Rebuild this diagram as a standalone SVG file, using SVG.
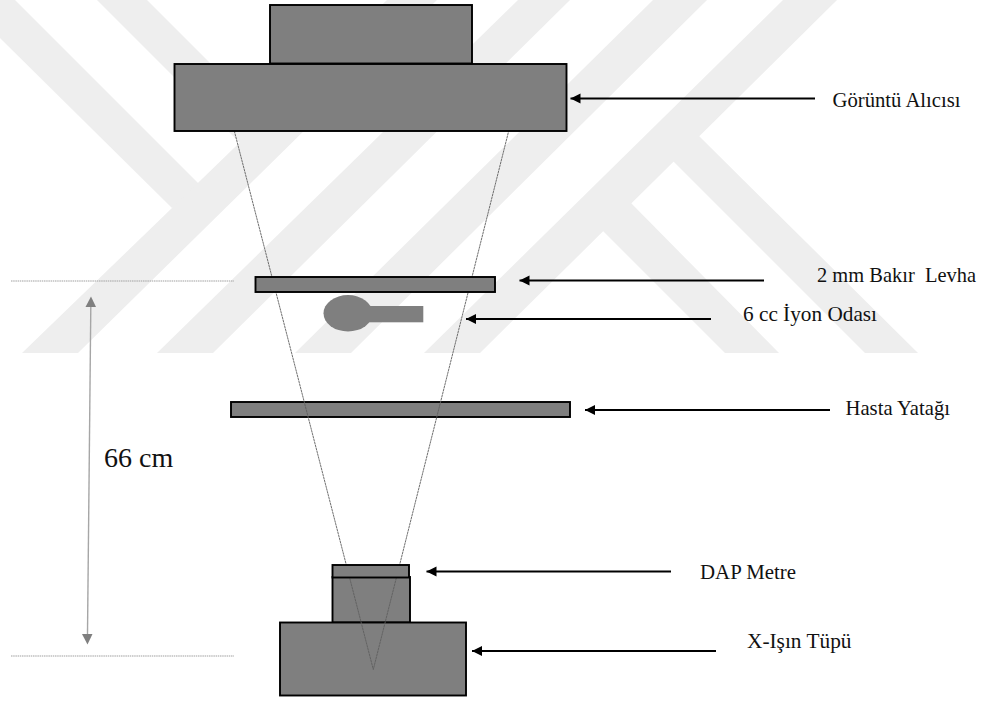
<svg xmlns="http://www.w3.org/2000/svg" width="984" height="702" viewBox="0 0 984 702">
<style>
.wm{fill:#eeeeee}
.b{fill:#7f7f7f;stroke:#000;stroke-width:1.9}
.ray{fill:none;stroke:#5f5f5f;stroke-width:.9;stroke-dasharray:2.5 .5}
.dot{fill:none;stroke:#a0a0a0;stroke-width:1.2;stroke-dasharray:1.5 .7}
.ar{fill:none;stroke:#000;stroke-width:2;marker-start:url(#ah)}
.t{font-family:"Liberation Serif","Times New Roman",serif;font-size:21px;fill:#111}
</style>
<defs>
<marker id="ah" markerUnits="userSpaceOnUse" markerWidth="12" markerHeight="12" refX="1" refY="6" orient="auto"><path d="M1 6L11 1V11Z" fill="#000"/></marker>
</defs>
<rect width="984" height="702" fill="#fff"/>
<g id="watermark" class="wm">
<polygon points="0,0 15,0 210,195 172,208 0,38"/>
<polygon points="97,0 147,0 289,142 241,144"/>
<polygon points="387,0 437,0 78,353 22,353 172,208"/>
<polygon points="518,0 570,0 213,353 157,353"/>
<polygon points="653,0 707,0 351,353 295,353"/>
<polygon points="783,0 837,0 480,353 424,353"/>
<polygon points="602,230 630,202 779,353 725,353"/>
<polygon points="673,161 698,135 918,353 865,353"/>
</g>
<g id="ion-chamber" fill="#7f7f7f">
<ellipse cx="348" cy="313.3" rx="24.5" ry="18.2"/>
<rect x="368" y="306" width="55.3" height="16.3"/>
</g>
<g id="table"><rect class="b" x="231" y="402" width="339" height="15"/></g>
<g id="tube">
<rect class="b" x="332.5" y="577" width="77.5" height="45.5"/>
<rect class="b" x="280" y="622.5" width="186" height="73"/>
</g>
<g id="connectors">
<path class="ray" d="M234.3 131L373.3 669.5L508.7 131"/>
<path class="dot" d="M11 281H234M11 656H234"/>
<path d="M90.8 307L87.5 634" fill="none" stroke="#a6a6a6" stroke-width="1.4"/>
<path d="M85.5 307L91 296.5L96 307Z" fill="#7f7f7f"/>
<path d="M82 634L87.5 644.5L92.5 634Z" fill="#7f7f7f"/>
<path class="ar" d="M570.5 98.5H815"/>
<path class="ar" d="M519.5 280.5H764"/>
<path class="ar" d="M466 319H711"/>
<path class="ar" d="M585 410H830"/>
<path class="ar" d="M426.5 571.5H671"/>
<path class="ar" d="M472 651H716"/>
</g>
<g id="detector">
<rect class="b" x="270" y="5" width="202" height="58.5"/>
<rect class="b" x="174.5" y="64" width="392" height="67"/>
</g>
<g id="copper"><rect class="b" x="255.5" y="277" width="239.5" height="15"/></g>
<g id="dap"><rect class="b" x="332.5" y="565" width="76.5" height="12.5"/></g>
<g id="labels">
<text class="t" x="832.5" y="106.5" textLength="128" lengthAdjust="spacingAndGlyphs">Görüntü Alıcısı</text>
<text class="t" x="817" y="281.5" textLength="159" lengthAdjust="spacingAndGlyphs" xml:space="preserve">2 mm Bakır  Levha</text>
<text class="t" x="743" y="320.5" textLength="134" lengthAdjust="spacingAndGlyphs">6 cc İyon Odası</text>
<text class="t" x="845.5" y="415" textLength="104.5" lengthAdjust="spacingAndGlyphs">Hasta Yatağı</text>
<text class="t" x="700" y="579" textLength="96" lengthAdjust="spacingAndGlyphs">DAP Metre</text>
<text class="t" x="747" y="648" textLength="104.5" lengthAdjust="spacingAndGlyphs">X-Işın Tüpü</text>
<text class="t" x="104" y="467" style="font-size:28px">66 cm</text>
</g>
</svg>
